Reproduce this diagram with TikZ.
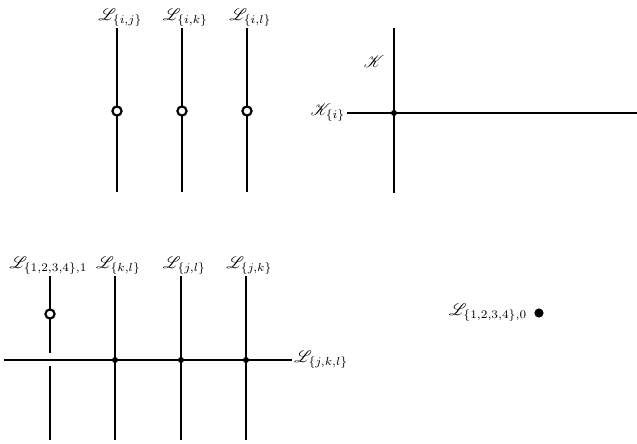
\documentclass[tikz,border=0pt]{standalone}
\usepackage{amsmath,mathrsfs}
\begin{document}
\begin{tikzpicture}[x=0.6pt,y=-0.6pt,
  ln/.style={line width=1.4pt},
  ocirc/.style={circle,draw,line width=1.3pt,fill=white,inner sep=0pt,minimum size=5.5pt},
  dotn/.style={circle,fill=black,inner sep=0pt,minimum size=3.6pt},
  bigdot/.style={circle,fill=black,inner sep=0pt,minimum size=5.5pt},
  lab/.style={inner sep=1pt}]
\useasboundingbox (0,0) rectangle (637,444);
% top-left group
\foreach \x/\n/\s in {117/a/{i,j},182/b/{i,k},247/c/{i,l}}{
  \coordinate (\n t) at (\x,28);
  \coordinate (\n b) at (\x,192);
  \draw[ln] (\n t) -- (\n b);
  \node[ocirc] (\n o) at (\x,111) {};
  \node[lab,anchor=south] (\n l) at ([xshift=2pt]\n t) {$\mathscr{L}_{\{\s\}}$};
}
% top-right
\coordinate (kt) at (394,28);
\coordinate (kb) at (394,193);
\coordinate (hl) at (347,113);
\coordinate (hr) at (637,113);
\draw[ln] (kt) -- (kb);
\draw[ln] (hl) -- (hr);
\node[dotn] (kd) at (394,113) {};
\node[lab] (klab) at (374,62) {$\mathscr{K}$};
\node[lab,anchor=east] (kilab) at (hl) {$\mathscr{K}_{\{i\}}$};
% bottom-left
\coordinate (bl) at (4,360);
\coordinate (br) at (292,360);
\draw[ln] (bl) -- (br);
\node[lab,anchor=west] (jkl) at (br) {$\mathscr{L}_{\{j,k,l\}}$};
\coordinate (v1t) at (50,276);
\coordinate (v1m) at (50,353);
\coordinate (v1n) at (50,366);
\coordinate (v1b) at (50,440);
\draw[ln] (v1t) -- (v1m);
\draw[ln] (v1n) -- (v1b);
\node[ocirc] (v1o) at (50,314) {};
\node[lab,anchor=south] (v1l) at ([xshift=-1pt]v1t) {$\mathscr{L}_{\{1,2,3,4\},1}$};
\foreach \x/\n/\s in {115/p/{k,l},181/q/{j,l},246/r/{j,k}}{
  \coordinate (\n t) at (\x,276);
  \coordinate (\n b) at (\x,440);
  \draw[ln] (\n t) -- (\n b);
  \node[dotn] (\n d) at (\x,360) {};
  \node[lab,anchor=south] (\n l) at ([xshift=2pt]\n t) {$\mathscr{L}_{\{\s\}}$};
}
% bottom-right
\node[bigdot] (zd) at (539,313) {};
\node[lab,anchor=east] (zl) at ([xshift=-6pt]zd) {$\mathscr{L}_{\{1,2,3,4\},0}$};
\end{tikzpicture}
\end{document}
